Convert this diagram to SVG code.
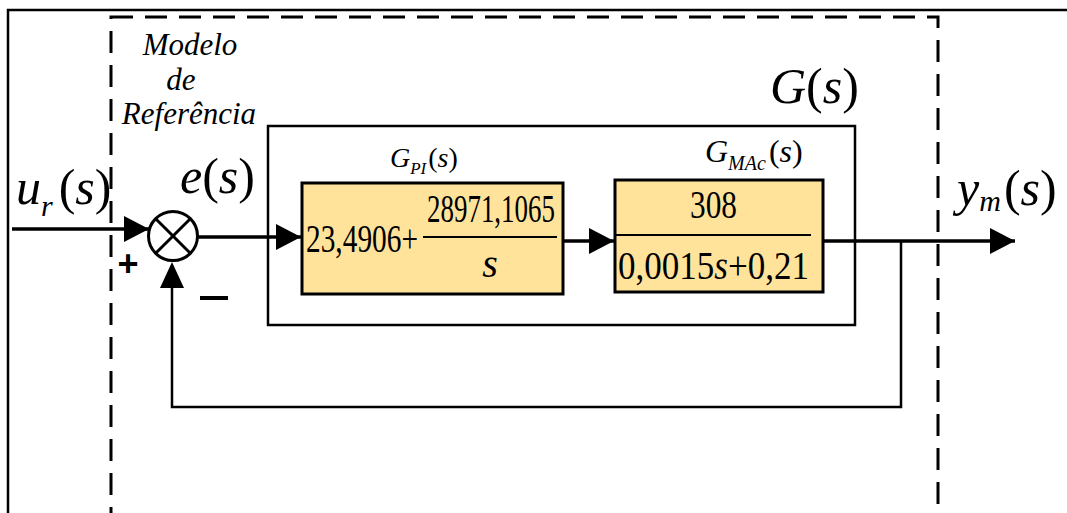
<svg xmlns="http://www.w3.org/2000/svg" width="1067" height="513" viewBox="0 0 1067 513">
  <defs>
    <style>
      .frame { fill: none; stroke: #000; stroke-width: 2.5; }
      .dash { fill: none; stroke: #000; stroke-width: 3; stroke-dasharray: 22 12; }
      .block { fill: #FFE39B; stroke: #000; stroke-width: 3; }
      .wire { fill: none; stroke: #000; stroke-width: 3.5; }
      .thin { fill: none; stroke: #000; stroke-width: 2.5; }
      .it { font-style: italic; }
    </style>
    <marker id="arrow" viewBox="0 0 25 26" refX="25" refY="13" markerWidth="25" markerHeight="26" markerUnits="userSpaceOnUse" orient="auto">
      <path d="M0,0 L25,13 L0,26 Z" fill="#000"/>
    </marker>
  </defs>

  <!-- outer figure frame -->
  <path class="frame" d="M8,513 V10 H1067"/>

  <!-- reference-model boundary -->
  <rect id="reference-model" class="dash" x="111" y="17" width="827" height="500"/>
  <g id="reference-model-label">
    <text style="font-family:'Liberation Serif',serif;font-style:italic" font-size="31" text-anchor="middle" x="190" y="55">Modelo</text>
    <text style="font-family:'Liberation Serif',serif;font-style:italic" font-size="31" text-anchor="middle" x="181" y="90">de</text>
    <text style="font-family:'Liberation Serif',serif;font-style:italic" font-size="31" text-anchor="middle" x="189" y="124">Referência</text>
  </g>

  <!-- plant G(s) frame -->
  <g id="plant">
    <rect class="thin" x="268" y="126" width="587" height="199"/>
    <text style="font-family:'Liberation Serif',serif" x="770" y="103" font-size="50"><tspan class="it">G</tspan>(<tspan class="it">s</tspan>)</text>
  </g>

  <!-- connectors -->
  <g id="connectors">
    <line class="wire" x1="12" y1="229" x2="149" y2="229" marker-end="url(#arrow)"/>
    <line class="wire" x1="198" y1="237" x2="301" y2="237" marker-end="url(#arrow)"/>
    <line class="wire" x1="563" y1="241" x2="614" y2="241" marker-end="url(#arrow)"/>
    <line class="wire" x1="823" y1="241" x2="1015" y2="241" marker-end="url(#arrow)"/>
    <polyline class="thin" points="901,241 901,407 172,407 172,285"/>
    <path d="M160,288 L172,262 L184,288 Z" fill="#000"/>
  </g>

  <!-- summing junction -->
  <g id="sum">
    <circle cx="173" cy="236" r="24.5" fill="#fff" stroke="#000" stroke-width="3"/>
    <line x1="155.7" y1="218.7" x2="190.3" y2="253.3" stroke="#000" stroke-width="3"/>
    <line x1="190.3" y1="218.7" x2="155.7" y2="253.3" stroke="#000" stroke-width="3"/>
    <text style="font-family:'Liberation Sans',sans-serif;font-weight:bold" x="128" y="276" font-size="36" text-anchor="middle">+</text>
    <rect x="200" y="296" width="28" height="4" fill="#000"/>
  </g>

  <!-- input / error / output labels -->
  <g id="input-label">
    <text style="font-family:'Liberation Serif',serif" x="16" y="204" font-size="50"><tspan class="it">u</tspan><tspan class="it" font-size="30" dy="12">r</tspan><tspan dy="-12" dx="6">(</tspan><tspan class="it">s</tspan>)</text>
  </g>
  <g id="error-label">
    <text style="font-family:'Liberation Serif',serif" x="180" y="193" font-size="50"><tspan class="it">e</tspan>(<tspan class="it">s</tspan>)</text>
  </g>
  <g id="output-label">
    <text style="font-family:'Liberation Serif',serif" x="957" y="205" font-size="50"><tspan class="it">y</tspan><tspan class="it" font-size="30" dy="6">m</tspan><tspan dy="-6" dx="3">(</tspan><tspan class="it">s</tspan>)</text>
  </g>

  <!-- PI controller -->
  <g id="pi-controller">
    <rect class="block" x="302" y="183" width="261" height="111"/>
    <text style="font-family:'Liberation Serif',serif" x="390" y="167" font-size="28"><tspan class="it">G</tspan><tspan class="it" font-size="17" dy="7">PI</tspan><tspan dy="-7" dx="2">(</tspan><tspan class="it">s</tspan>)</text>
    <text style="font-family:'Liberation Serif',serif" x="306" y="252" font-size="40" textLength="112" lengthAdjust="spacingAndGlyphs">23,4906+</text>
    <text style="font-family:'Liberation Serif',serif" x="427" y="222" font-size="40" textLength="128" lengthAdjust="spacingAndGlyphs">28971,1065</text>
    <line x1="423" y1="237" x2="557" y2="237" stroke="#000" stroke-width="2"/>
    <text style="font-family:'Liberation Serif',serif;font-style:italic" x="490" y="277" font-size="40" text-anchor="middle">s</text>
  </g>

  <!-- current-loop plant -->
  <g id="mac-plant">
    <rect class="block" x="615" y="180" width="208" height="112"/>
    <text style="font-family:'Liberation Serif',serif" x="705" y="162" font-size="32"><tspan class="it">G</tspan><tspan class="it" font-size="20" dy="8">MAc</tspan><tspan dy="-8" dx="3">(</tspan><tspan class="it">s</tspan>)</text>
    <text style="font-family:'Liberation Serif',serif" x="690" y="218" font-size="40" textLength="47" lengthAdjust="spacingAndGlyphs">308</text>
    <line x1="615" y1="235" x2="811" y2="235" stroke="#000" stroke-width="2"/>
    <text style="font-family:'Liberation Serif',serif" x="618" y="279" font-size="40" textLength="191" lengthAdjust="spacingAndGlyphs">0,0015<tspan class="it">s</tspan>+0,21</text>
  </g>
</svg>
